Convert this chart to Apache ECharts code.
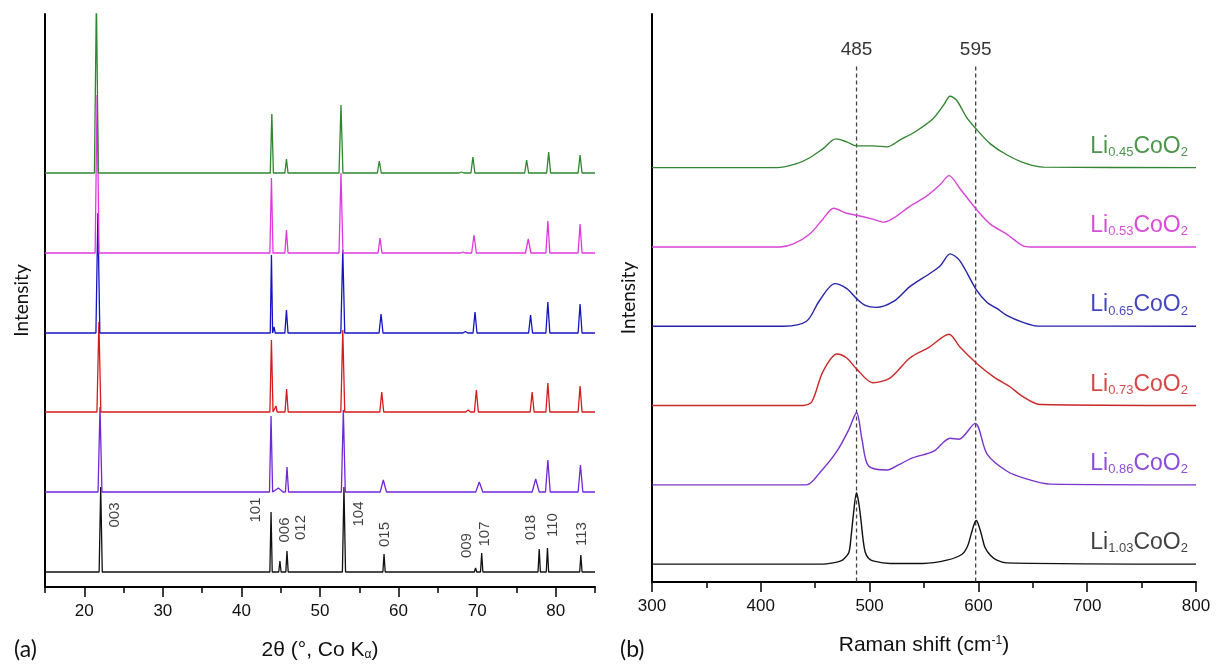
<!DOCTYPE html>
<html><head><meta charset="utf-8">
<script src="https://cdn.jsdelivr.net/npm/echarts@6/dist/echarts.min.js"></script>
<style>html,body{margin:0;padding:0;background:#fff}#c{width:1219px;height:666px}</style>
</head><body><div id="c"></div>
<script>
// ---------------- XRD (panel a) ----------------
const xrdTickLabels = [20, 30, 40, 50, 60, 70, 80];
const xrdMinorTicks = [15, 25, 35, 45, 55, 65, 75, 85];
const xrdOffsets = [15, 95, 175, 254, 334, 414]; // 1.03, 0.86, 0.73, 0.65, 0.53, 0.45

const xrdPos103 = [22.09, 43.77, 44.9, 45.8, 53.05, 58.15, 69.8, 70.58, 77.9, 78.95, 83.2];
const xrdInt103 = [85, 60, 11, 21, 85, 18, 4, 19, 23, 24, 17];
const xrdWid103 = [0.2, 0.15, 0.15, 0.15, 0.2, 0.15, 0.15, 0.15, 0.15, 0.15, 0.15];

const xrdPos086 = [22.0, 43.77, 44.7, 45.8, 52.97, 58.06, 70.27, 77.45, 79.0, 83.15];
const xrdInt086 = [85, 76, 4, 25, 82, 12, 10, 13, 32, 27];
const xrdWid086 = [0.25, 0.2, 0.6, 0.2, 0.25, 0.4, 0.45, 0.45, 0.3, 0.3];

const xrdPos073 = [21.86, 43.82, 44.4, 45.75, 52.9, 57.86, 68.85, 69.9, 77.0, 79.0, 83.1];
const xrdInt073 = [90, 72, 6, 23, 82, 20, 2, 22, 20, 29, 26];
const xrdWid073 = [0.25, 0.2, 0.15, 0.2, 0.25, 0.25, 0.3, 0.25, 0.25, 0.25, 0.25];

const xrdPos065 = [21.73, 43.82, 44.15, 45.73, 52.9, 57.77, 68.5, 69.73, 76.8, 79.0, 83.1];
const xrdInt065 = [120, 78, 6, 23, 83, 19, 1.5, 21, 18, 31, 29];
const xrdWid065 = [0.25, 0.15, 0.15, 0.2, 0.25, 0.25, 0.3, 0.25, 0.25, 0.25, 0.25];

const xrdPos053 = [21.63, 43.82, 45.73, 52.67, 57.64, 68.2, 69.6, 76.5, 79.0, 83.1];
const xrdInt053 = [158, 75, 23, 80, 15, 1, 18, 14, 32, 29];
const xrdWid053 = [0.25, 0.2, 0.2, 0.25, 0.25, 0.3, 0.3, 0.35, 0.25, 0.25];

const xrdPos045 = [21.54, 43.87, 45.73, 52.67, 57.55, 68.0, 69.46, 76.3, 79.1, 83.1];
const xrdInt045 = [175, 59, 14, 68, 12, 1, 16, 13, 21, 18];
const xrdWid045 = [0.25, 0.2, 0.2, 0.25, 0.25, 0.3, 0.25, 0.25, 0.25, 0.25];

const hklNames = ['003', '101', '006', '012', '104', '015', '009', '107', '018', '110', '113'];
const hklLabelX = [23.9, 41.8, 45.5, 47.6, 54.9, 58.3, 68.7, 71.0, 76.9, 79.6, 83.3];
const hklLabelY = [72, 77, 57, 59.5, 73, 52.5, 41.4, 53, 59.5, 62, 53];

// ---------------- Raman (panel b) ----------------
const ramanOffsets = [18, 98, 178, 258, 338, 418]; // 1.03, 0.86, 0.73, 0.65, 0.53, 0.45
const ramanX103 = [300, 457, 465, 473, 477, 481, 483, 485, 488, 490, 492, 494, 496, 499, 504, 519, 549, 571, 585, 590, 593, 596, 598, 600, 603, 606, 611, 617, 626, 800];
const ramanY103 = [0, 0, 1, 3, 6, 12, 28, 49, 72, 62, 45, 25, 12, 6, 3, 0.7, 0.7, 4, 10, 18, 29, 40, 44, 40, 29, 17, 9, 4, 1.3, 0];
const ramanX086 = [300, 442, 454, 470, 481, 488, 493, 499, 516, 528, 539, 559, 574, 582, 597, 608, 626, 644, 666, 800];
const ramanY086 = [0, 0, 12, 34, 56, 73, 46, 19, 15, 21, 27, 34, 47, 46, 62, 31, 14, 6, 0.7, 0];
const ramanX073 = [300, 439, 447, 457, 470, 479, 488, 503, 519, 537, 555, 573, 583, 598, 614, 629, 641, 657, 800];
const ramanY073 = [0, 0, 4, 34, 52, 48, 37, 23, 28, 48, 59, 72, 59, 43, 29, 19, 9, 1, 0];
const ramanX065 = [300, 421, 442, 454, 468, 479, 488, 496, 506, 522, 537, 555, 565, 574, 583, 598, 608, 617, 626, 641, 654, 800];
const ramanY065 = [0, 0, 5, 26, 43, 38, 28, 21, 19, 25, 40, 53, 61, 73, 66, 37, 24, 18, 11, 4, 0.3, 0];
const ramanX053 = [300, 418, 430, 445, 457, 467, 479, 488, 503, 513, 522, 537, 552, 565, 573, 583, 598, 611, 626, 641, 648, 800];
const ramanY053 = [0, 0, 3, 13, 28, 39, 34, 32, 28, 25, 29, 41, 51, 63, 72, 59, 38, 23, 13, 1, 0, 0];
const ramanX045 = [300, 415, 433, 445, 457, 469, 479, 488, 503, 516, 528, 543, 558, 568, 574, 580, 589, 598, 611, 626, 644, 660, 800];
const ramanY045 = [0, 0, 4, 10, 19, 29, 26, 22, 22, 21, 28, 37, 49, 63, 72, 68, 51, 39, 24, 13, 4, 0.5, 0];

const ramanRefLines = [488, 597.5];
const ramanRefLabels = ['485', '595'];
const sampleSubs = ['1.03', '0.86', '0.73', '0.65', '0.53', '0.45'];

// ---------------- styling ----------------
const xrdColors = ['#111111', '#7226d6', '#d41c1c', '#1515c0', '#e038e0', '#2f862f'];
const ramanColors = ['#111111', '#7a34cc', '#c82828', '#2424a8', '#d645d6', '#338533'];
const labelColors = ['#111111', '#6f22cf', '#cc1a1a', '#1818b0', '#cc22cc', '#1f7a1f'];
const FF = "'Liberation Sans', Arial, sans-serif";

const xrdSets = [
  [xrdPos103, xrdInt103, xrdWid103],
  [xrdPos086, xrdInt086, xrdWid086],
  [xrdPos073, xrdInt073, xrdWid073],
  [xrdPos065, xrdInt065, xrdWid065],
  [xrdPos053, xrdInt053, xrdWid053],
  [xrdPos045, xrdInt045, xrdWid045]
];
const ramanSets = [
  [ramanX103, ramanY103], [ramanX086, ramanY086], [ramanX073, ramanY073],
  [ramanX065, ramanY065], [ramanX053, ramanY053], [ramanX045, ramanY045]
];

function xrdLine(pos, hgt, wid, base) {
  const pts = [[15, base]];
  for (let i = 0; i < pos.length; i++) {
    pts.push([pos[i] - wid[i], base], [pos[i], base + hgt[i]], [pos[i] + wid[i], base]);
  }
  pts.push([85, base]);
  return pts;
}

const series = [];
xrdSets.forEach((s, k) => {
  series.push({
    type: 'line', xAxisIndex: 0, yAxisIndex: 0, showSymbol: false, silent: true,
    data: xrdLine(s[0], s[1], s[2], xrdOffsets[k]),
    lineStyle: { color: xrdColors[k], width: 1.3, join: 'bevel' }, z: 2 + k
  });
});
series.push({
  type: 'scatter', xAxisIndex: 0, yAxisIndex: 0, symbolSize: 0, silent: true,
  data: hklNames.map((n, i) => [hklLabelX[i], hklLabelY[i], n]),
  label: {
    show: true, position: 'inside', rotate: 90, formatter: p => p.data[2],
    fontFamily: FF, fontSize: 15, color: '#111'
  }, z: 20
});

ramanSets.forEach((s, k) => {
  series.push({
    type: 'line', xAxisIndex: 2, yAxisIndex: 1, showSymbol: false, silent: true,
    smooth: 0.3,
    data: s[0].map((x, i) => [x, s[1][i] + ramanOffsets[k]]),
    lineStyle: { color: ramanColors[k], width: 1.4 }, z: 3 + k
  });
});
ramanRefLines.forEach(x => {
  series.push({
    type: 'line', xAxisIndex: 2, yAxisIndex: 1, showSymbol: false, silent: true,
    data: [[x, 520], [x, 0]],
    lineStyle: { color: '#444', width: 1.3, type: [4, 3] }, z: 1
  });
});
series.push({
  type: 'scatter', xAxisIndex: 2, yAxisIndex: 1, symbolSize: 0, silent: true,
  data: ramanRefLines.map((x, i) => [x, 537, ramanRefLabels[i]]),
  label: {
    show: true, position: 'inside', formatter: p => p.data[2],
    fontFamily: FF, fontSize: 19, color: '#000'
  }
});
series.push({
  type: 'scatter', xAxisIndex: 2, yAxisIndex: 1, symbolSize: 0, silent: true,
  data: sampleSubs.map((s, k) => ({
    value: [792.6, ramanOffsets[k] + 21, s],
    label: { color: labelColors[k] }
  })),
  label: {
    show: true, position: 'left', distance: 0,
    formatter: p => '{m|Li}{s|' + p.data.value[2] + '}{m|CoO}{s|2}',
    fontFamily: FF,
    rich: {
      m: { fontSize: 23, lineHeight: 24, verticalAlign: 'top', fontFamily: FF },
      s: { fontSize: 13, lineHeight: 13, verticalAlign: 'bottom', padding: [16, 0, 0, 0], fontFamily: FF }
    }
  }
});

const option = {
  animation: false,
  backgroundColor: '#fff',
  grid: [
    { left: 45, right: 624, top: 14, bottom: 79 },
    { left: 652, right: 23, top: 14, bottom: 79 }
  ],
  xAxis: [
    {
      gridIndex: 0, type: 'value', min: 15, max: 85, position: 'bottom',
      axisLine: { lineStyle: { color: '#000', width: 2 } },
      axisTick: { customValues: xrdTickLabels, length: 10, lineStyle: { color: '#000', width: 1.5 } },
      axisLabel: { customValues: xrdTickLabels, fontSize: 17, color: '#111', margin: 16, fontFamily: FF },
      splitLine: { show: false },
      name: '2θ (°, Co K{s|α})', nameLocation: 'middle', nameGap: 53,
      nameTextStyle: {
        fontSize: 21, color: '#111', fontFamily: FF,
        rich: { s: { fontSize: 12, lineHeight: 12, verticalAlign: 'bottom', padding: [14, 0, 0, 0], fontFamily: FF, color: '#111' } }
      }
    },
    {
      gridIndex: 0, type: 'value', min: 15, max: 85, position: 'bottom', offset: 0,
      axisLine: { show: false },
      axisTick: { customValues: xrdMinorTicks, length: 6, lineStyle: { color: '#000', width: 1.5 } },
      axisLabel: { show: false }, splitLine: { show: false }
    },
    {
      gridIndex: 1, type: 'value', min: 300, max: 800, interval: 100,
      axisLine: { lineStyle: { color: '#000', width: 2 } },
      axisTick: { length: 10, lineStyle: { color: '#000', width: 1.5 } },
      minorTick: { show: true, splitNumber: 2, length: 6, lineStyle: { color: '#000', width: 1.5 } },
      axisLabel: { fontSize: 17, color: '#111', margin: 16, fontFamily: FF },
      splitLine: { show: false },
      name: '{a|Raman shift (cm}{p|-1}{a|)}', nameLocation: 'middle', nameGap: 53,
      nameTextStyle: {
        fontSize: 21, color: '#111', fontFamily: FF,
        rich: {
          a: { fontSize: 21, fontFamily: FF, color: '#111' },
          p: { fontSize: 12, lineHeight: 12, verticalAlign: 'top', padding: [0, 0, 14, 0], fontFamily: FF, color: '#111' }
        }
      }
    }
  ],
  yAxis: [
    {
      gridIndex: 0, type: 'value', min: 0, max: 573,
      axisLine: { show: true, lineStyle: { color: '#000', width: 2 } },
      axisTick: { show: false }, axisLabel: { show: false }, splitLine: { show: false },
      name: 'Intensity', nameLocation: 'middle', nameGap: 14,
      nameTextStyle: { fontFamily: 'Lato, sans-serif', fontSize: 19, color: '#111' }
    },
    {
      gridIndex: 1, type: 'value', min: 0, max: 573,
      axisLine: { show: true, lineStyle: { color: '#000', width: 2 } },
      axisTick: { show: false }, axisLabel: { show: false }, splitLine: { show: false },
      name: 'Intensity', nameLocation: 'middle', nameGap: 14,
      nameTextStyle: { fontFamily: 'Lato, sans-serif', fontSize: 19, color: '#111' }
    }
  ],
  graphic: [
    { type: 'text', left: 14, top: 638, style: { text: '(a)', font: '23px Lato', fill: '#111' } },
    { type: 'text', left: 620, top: 638, style: { text: '(b)', font: '23px Lato', fill: '#111' } }
  ],
  series: series
};
const chart = echarts.init(document.getElementById('c'), null, { renderer: 'canvas' });
chart.setOption(option);
</script>
</body></html>
